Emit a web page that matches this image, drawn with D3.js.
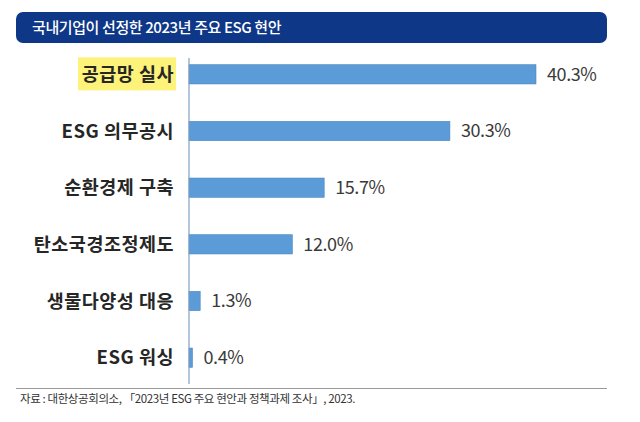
<!DOCTYPE html>
<html><head><meta charset="utf-8">
<script src="https://cdn.jsdelivr.net/npm/d3@7/dist/d3.min.js"></script>
<style>body{margin:0;background:#fff;}svg{display:block;}</style>
</head><body>
<svg id="c" width="640" height="422"></svg>
<script>
const categories = ["공급망 실사","ESG 의무공시","순환경제 구축","탄소국경조정제도","생물다양성 대응","ESG 워싱"];
const values = [40.3, 30.3, 15.7, 12.0, 1.3, 0.4];
const valueLabels = ["40.3%","30.3%","15.7%","12.0%","1.3%","0.4%"];
const title = "국내기업이 선정한 2023년 주요 ESG 현안";
const source = "자료 : 대한상공회의소, 「2023년 ESG 주요 현안과 정책과제 조사」, 2023.";

const svg = d3.select("#c");
const font = "'Noto Sans CJK KR','Noto Sans',sans-serif";

// header
svg.append("rect").attr("x",16).attr("y",12).attr("width",591).attr("height",31).attr("rx",7).attr("fill","#0e3788");
svg.append("text").attr("x",32).attr("y",33).attr("fill","#fff").attr("font-family",font)
  .attr("font-size",15).attr("font-weight",500).attr("letter-spacing",-0.4).text(title);

const x = d3.scaleLinear().domain([0,40.3]).range([189,536]);
const y = d3.scaleBand().domain(categories).range([46,386]).paddingInner(0.66).paddingOuter(0.33);

// highlight behind first label
svg.append("rect").attr("x",78).attr("y",y(categories[0])+y.bandwidth()/2-17).attr("width",98).attr("height",33).attr("fill","#fdf27a");

svg.selectAll("rect.bar").data(values).join("rect").attr("class","bar")
  .attr("x",x(0)).attr("y",(d,i)=>y(categories[i])).attr("width",d=>x(d)-x(0)).attr("height",y.bandwidth())
  .attr("fill","#5b9bd8").attr("stroke","#4a86c0").attr("stroke-width",0.6);

// axis line
svg.append("line").attr("x1",189).attr("x2",189).attr("y1",58).attr("y2",384).attr("stroke","#7f9fc4").attr("stroke-width",1.2);

svg.selectAll("text.cat").data(categories).join("text").attr("class","cat")
  .attr("x",174).attr("y",d=>y(d)+y.bandwidth()/2).attr("dy","0.36em").attr("text-anchor","end")
  .attr("font-family",font).attr("font-size",18.5).attr("font-weight",700).attr("fill","#262626").attr("letter-spacing",0.5)
  .text(d=>d);

svg.selectAll("text.val").data(values).join("text").attr("class","val")
  .attr("x",d=>x(d)+11).attr("y",(d,i)=>y(categories[i])+y.bandwidth()/2).attr("dy","0.36em")
  .attr("font-family",font).attr("font-size",18).attr("fill","#3a3a3a").attr("letter-spacing",-0.4)
  .text((d,i)=>valueLabels[i]);

// separator
svg.append("line").attr("x1",16).attr("x2",607).attr("y1",388.5).attr("y2",388.5).attr("stroke","#9a9a9a").attr("stroke-width",1);
svg.append("text").attr("x",20).attr("y",403).attr("font-family",font).attr("font-size",11.5).attr("fill","#333").attr("letter-spacing",-0.4).text(source);
</script>
</body></html>
